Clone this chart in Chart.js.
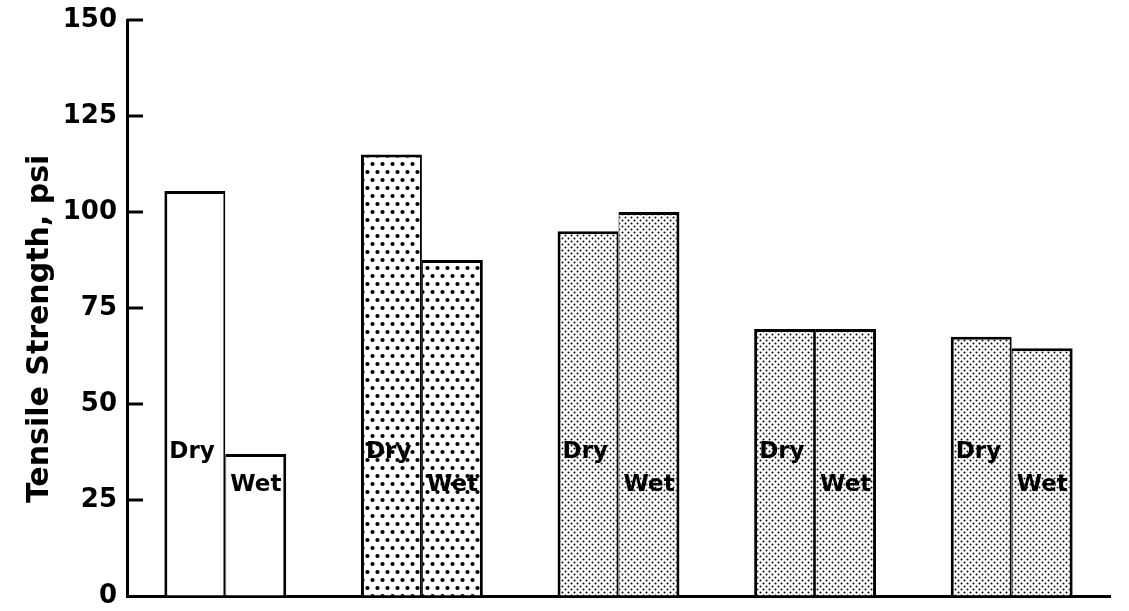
<!DOCTYPE html>
<html>
<head>
<meta charset="utf-8">
<script src="https://cdn.jsdelivr.net/npm/chart.js@4/dist/chart.umd.min.js"></script>
<style>
  body { margin: 0; background: #fff; }
  canvas { display: block; }
</style>
</head>
<body>
<canvas id="tensile_Chart" width="1129" height="611"></canvas>
<script>
// data
const groups = ['1', '2', '3', '4', '5'];
const dryValues = [105.5, 115, 95, 69.5, 67.5];
const wetValues = [37, 87.5, 100, 69.5, 64.5];
const yTicks = [0, 25, 50, 75, 100, 125, 150];
const barNames = ['Dry', 'Wet'];

function dotPattern(w, h, dots, r){
    let c = document.createElement('canvas');
    c.width = w; c.height = h;
    let g = c.getContext('2d');
    g.fillStyle = '#fff';
    g.fillRect(0, 0, w, h);
    g.fillStyle = '#000';
    for(let d of dots){
        g.beginPath();
        g.arc(d[0], d[1], r, 0, Math.PI*2);
        g.fill();
    }
    return g.createPattern(c, 'repeat');
}

const ctx = document.getElementById('tensile_Chart').getContext('2d');
const coarse = dotPattern(10, 16, [[2.5, 4], [7.5, 12]], 2.1);
const fine = dotPattern(6, 6, [[1.5, 1.5], [4.5, 4.5]], 1.0);
const fills = ['#fff', coarse, fine, fine, fine];

// "Dry"/"Wet" written inside each bar, plus the inward y ticks
const barText = {
    id: 'barText',
    afterDatasetsDraw(chart){
        let c = chart.ctx;
        let y = chart.scales.y;
        let area = chart.chartArea;
        c.save();
        c.fillStyle = '#000';
        c.font = 'bold 23px "DejaVu Sans"';
        c.textAlign = 'left';
        c.textBaseline = 'middle';
        let levels = [37.5, 29];
        for(let k=0; k<2; k++){
            let meta = chart.getDatasetMeta(k);
            meta.data.forEach(function(bar){
                c.fillText(barNames[k], bar.x - bar.width/2 + 5, y.getPixelForValue(levels[k]));
            });
        }
        c.strokeStyle = '#000';
        c.lineWidth = 3;
        for(let v of yTicks){
            if(v==0) continue;
            let py = y.getPixelForValue(v);
            c.beginPath();
            c.moveTo(area.left, py);
            c.lineTo(area.left + 16, py);
            c.stroke();
        }
        c.restore();
    }
};

const chart = new Chart(ctx, {
    type: 'bar',
    data: {
        labels: groups,
        datasets: [
            {label: 'Dry', data: dryValues, backgroundColor: fills, borderColor: '#000',
             borderWidth: {top: 3, left: 3, right: 2, bottom: 0}},
            {label: 'Wet', data: wetValues, backgroundColor: fills, borderColor: '#000',
             borderWidth: {top: 3, left: 1, right: 3, bottom: 0}}
        ]
    },
    options: {
        responsive: false,
        animation: false,
        layout: {padding: {top: 20, right: 19, left: 0, bottom: 0}},
        datasets: {bar: {categoryPercentage: 0.62, barPercentage: 1.0}},
        plugins: {legend: {display: false}, tooltip: {enabled: false}},
        scales: {
            x: {
                grid: {display: false},
                ticks: {display: false},
                border: {color: '#000', width: 3},
                afterFit(s){ s.height = 15; }
            },
            y: {
                min: 0,
                max: 150,
                afterBuildTicks(s){ s.ticks = yTicks.map(v => ({value: v})); },
                grid: {drawOnChartArea: false, drawTicks: false},
                border: {color: '#000', width: 3},
                ticks: {
                    color: '#000',
                    padding: 10,
                    font: {family: 'DejaVu Sans', weight: 'bold', size: 26}
                },
                title: {
                    display: true,
                    text: 'Tensile Strength, psi    ',
                    color: '#000',
                    padding: {top: 22, bottom: 0},
                    font: {family: 'DejaVu Sans', weight: 'bold', size: 30}
                },
                afterFit(s){
                    s.width = 127;
                    s.paddingTop = 0;
                    s.paddingBottom = 0;
                }
            }
        }
    },
    plugins: [barText]
});
</script>
</body>
</html>
